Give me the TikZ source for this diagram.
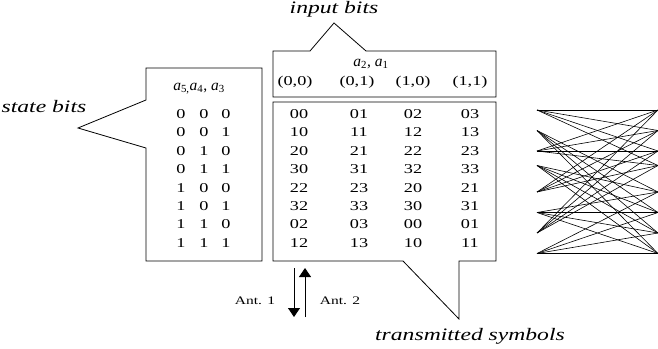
\documentclass[tikz,border=0pt]{standalone}
\usepackage{fontspec}
\setmainfont{Liberation Serif}[FakeStretch=1.35]
\newfontfamily\narrowserif{Liberation Serif}
\usetikzlibrary{arrows.meta}
\begin{document}
\begin{tikzpicture}[x=1pt,y=-1pt,
  cell/.style={font=\fontsize{13.5}{14}\selectfont, inner sep=0pt, anchor=center},
  head/.style={font=\narrowserif\fontsize{15.5}{16}\selectfont, inner sep=0pt, anchor=center},
  lbl/.style={font=\fontsize{17.5}{18}\selectfont\itshape, inner sep=0pt},
  ant/.style={font=\fontsize{11.5}{12}\selectfont, inner sep=0pt},
  frame/.style={draw, line width=0.8pt, line join=miter},
  branch/.style={line width=0.6pt},
  antarrow/.style={line width=0.9pt, -{Triangle[length=9pt,width=12pt]}}
]
\useasboundingbox (0,0) rectangle (658,348);

% state-bit callout with its pointer on the left edge
\draw[frame] (146,100) -- (146,68) -- (262,68) -- (262,261) -- (146,261)
  -- (146,148) -- (78,128) -- cycle;
\node[lbl] (stlabel) at (44,107) {state bits};
\node[head] (sthead) at (199,89) {\textit{a}\textsubscript{5,}\textit{a}\textsubscript{4}, \textit{a}\textsubscript{3}};

% input-bit callout with its pointer on the top edge
\draw[frame] (273,97) -- (273,51) -- (310,51) -- (334,23) -- (366,51)
  -- (496,51) -- (496,97) -- cycle;
\node[lbl] (inlabel) at (334,9) {input bits};
\node[head] (inhead) at (371,64) {\textit{a}\textsubscript{2}, \textit{a}\textsubscript{1}};
\foreach \t/\x in {(0,0)/295,(0,1)/357,(1,0)/413,(1,1)/470}
  \node[cell] (h\x) at (\x,82) {\t};

% transmitted-symbol callout with its pointer on the bottom edge
\draw[frame] (273,102) -- (496,102) -- (496,261) -- (459,261) -- (459,319)
  -- (403,261) -- (273,261) -- cycle;
\node[lbl] (txlabel) at (470,336) {transmitted symbols};

% state bits and symbol table
\foreach \p/\q/\r/\a/\b/\c/\d [count=\k from 0] in
  {0/0/0/00/01/02/03, 0/0/1/10/11/12/13, 0/1/0/20/21/22/23, 0/1/1/30/31/32/33,
   1/0/0/22/23/20/21, 1/0/1/32/33/30/31, 1/1/0/02/03/00/01, 1/1/1/12/13/10/11} {
  \pgfmathsetmacro\yy{114+18.4*\k}
  \node[cell] (s\k a) at (181,\yy) {\p};
  \node[cell] (s\k b) at (204,\yy) {\q};
  \node[cell] (s\k c) at (226,\yy) {\r};
  \node[cell] (t\k a) at (299,\yy) {\a};
  \node[cell] (t\k b) at (359,\yy) {\b};
  \node[cell] (t\k c) at (413,\yy) {\c};
  \node[cell] (t\k d) at (470,\yy) {\d};
}

% antenna arrows
\coordinate (a1top) at (294,268);
\coordinate (a1bot) at (294,317);
\coordinate (a2bot) at (305,317);
\coordinate (a2top) at (305,268);
\draw[antarrow] (a1top) -- (a1bot);
\draw[antarrow] (a2bot) -- (a2top);
\node[ant] (ant1) at (255,301) {Ant. 1};
\node[ant] (ant2) at (340,301) {Ant. 2};

% trellis section
\foreach \i/\y in {0/110,1/130.5,2/151,3/165.5,4/192,5/212.5,6/233,7/253.5} {
  \coordinate (L\i) at (537,\y);
  \coordinate (R\i) at (658,\y);
}
\foreach \i in {0,...,7}
  \foreach \j in {0,...,3} {
    \pgfmathtruncatemacro\nxt{4*mod(\i,2)+\j}
    \draw[branch] (L\i) -- (R\nxt);
  }
\end{tikzpicture}
\end{document}
